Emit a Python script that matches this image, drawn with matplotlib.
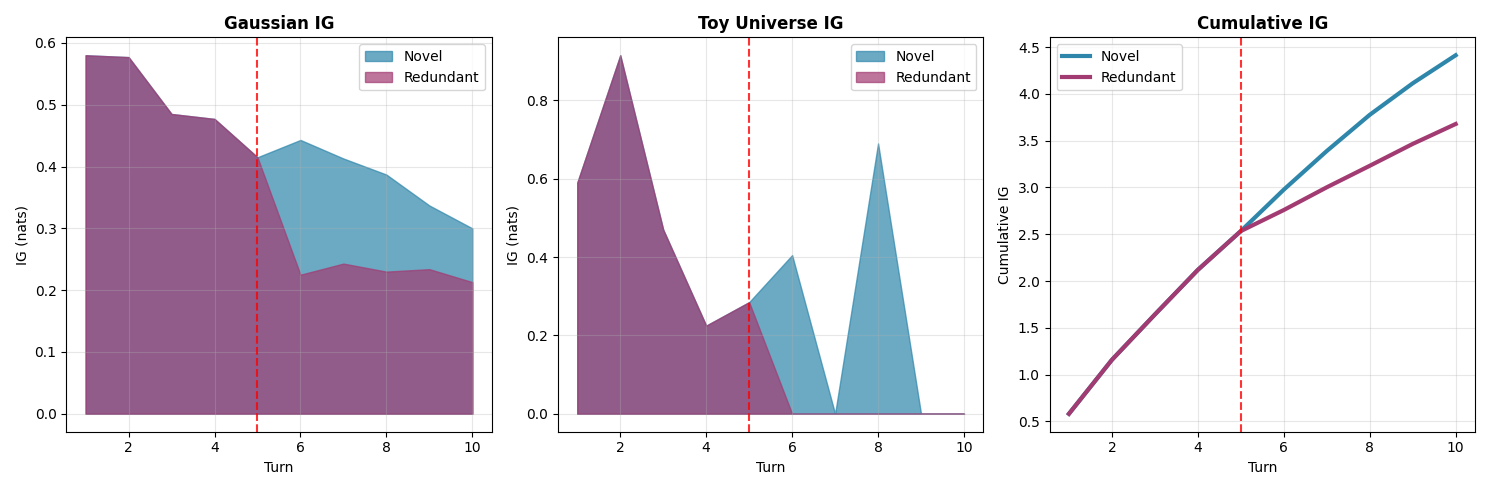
import matplotlib.pyplot as plt
import numpy as np

turns = np.arange(1, 11)
gauss_novel = [0.580, 0.577, 0.485, 0.477, 0.415, 0.443, 0.413, 0.387, 0.337, 0.300]
gauss_redundant = [0.580, 0.577, 0.485, 0.477, 0.415, 0.225, 0.243, 0.230, 0.234, 0.213]
toy_novel = [0.59, 0.915, 0.47, 0.225, 0.285, 0.405, 0.0, 0.69, 0.0, 0.0]
toy_redundant = [0.59, 0.915, 0.47, 0.225, 0.285, 0.0, 0.0, 0.0, 0.0, 0.0]

c_novel = "#2E86AB"
c_red = "#A23B72"

fig, axes = plt.subplots(1, 3, figsize=(14.9, 4.9), dpi=100)

for ax, nov, red, title in [(axes[0], gauss_novel, gauss_redundant, "Gaussian IG"),
                            (axes[1], toy_novel, toy_redundant, "Toy Universe IG")]:
    ax.fill_between(turns, 0, nov, color=c_novel, alpha=0.7, label="Novel")
    ax.fill_between(turns, 0, red, color=c_red, alpha=0.7, label="Redundant")
    ax.axvline(5, color="red", linestyle="--", alpha=0.8)
    ax.set_xlabel("Turn")
    ax.set_ylabel("IG (nats)")
    ax.set_title(title, fontweight="bold")
    ax.legend(loc="upper right")
    ax.grid(True, alpha=0.3)

ax = axes[2]
ax.plot(turns, np.cumsum(gauss_novel), color=c_novel, linewidth=3, label="Novel")
ax.plot(turns, np.cumsum(gauss_redundant), color=c_red, linewidth=3, label="Redundant")
ax.axvline(5, color="red", linestyle="--", alpha=0.8)
ax.set_xlabel("Turn")
ax.set_ylabel("Cumulative IG")
ax.set_title("Cumulative IG", fontweight="bold")
ax.legend(loc="upper left")
ax.grid(True, alpha=0.3)

plt.tight_layout()
plt.savefig("out.png")
